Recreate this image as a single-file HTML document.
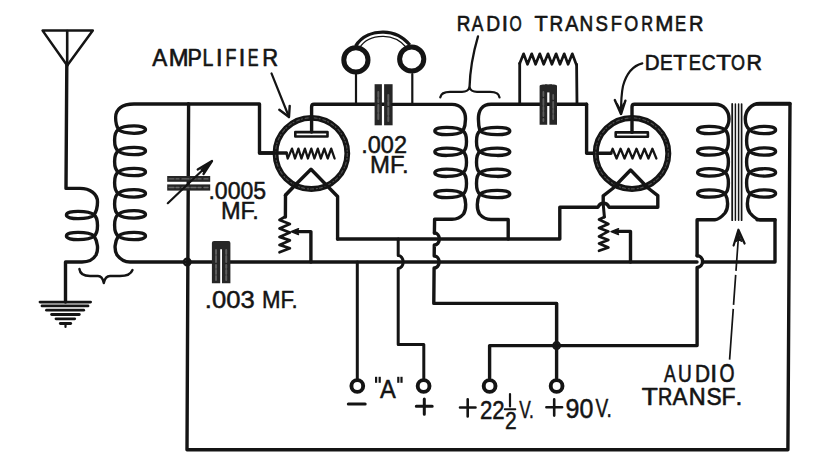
<!DOCTYPE html>
<html><head><meta charset="utf-8"><style>
html,body{margin:0;padding:0;background:#fff;}
svg{display:block;}
text{font-family:"Liberation Sans",sans-serif;fill:#141414;stroke:#141414;stroke-width:0.5px;}
</style></head><body>
<svg width="813" height="462" viewBox="0 0 813 462" fill="none" stroke="#141414" stroke-linecap="round" stroke-linejoin="round">
<rect width="813" height="462" fill="#fff" stroke="none"/>
<path d="M42.6,30.6 H92.8 L67.2,65.5 Z" stroke-width="2.5" />
<path d="M67.2,31 V65.5" stroke-width="2.6" />
<path d="M66.8,65 L66,188.4 H80 C90,188.4 97.5,194 97.5,202 C97.5,208 96,212 94,215" stroke-width="3.4" />
<path d="M94.2,215 C88.64,210.25 66.40,209.95 66.40,215 C66.40,220.05 88.64,219.75 94.2,215 Z" stroke-width="3.3"/>
<path d="M94.2,236 C88.64,231.25 66.40,230.95 66.40,236 C66.40,241.05 88.64,240.75 94.2,236 Z" stroke-width="3.3"/>
<path d="M94,215 C98.66666666666667,218 98.66666666666667,233 94,236 " stroke-width="3.4" />
<path d="M94,236 C98,242 98.5,250 96,255 C93,260 88,262 82,262 H65.5 V302" stroke-width="3.4" />
<line x1="40" y1="302.1" x2="90.6" y2="302.1" stroke-width="2.8"/>
<line x1="42" y1="305.9" x2="88" y2="305.9" stroke-width="2.8"/>
<line x1="46.5" y1="310.2" x2="83.7" y2="310.2" stroke-width="2.8"/>
<line x1="51.6" y1="314.5" x2="79.3" y2="314.5" stroke-width="2.8"/>
<line x1="56" y1="318.8" x2="74.7" y2="318.8" stroke-width="2.8"/>
<line x1="60.3" y1="323.5" x2="70.7" y2="323.5" stroke-width="2.8"/>
<path d="M65.5,323.5 V327" stroke-width="2.2" />
<path d="M79.4,269 C80,274 84,276 90,276 H98 C101,276 103,279 103.8,283 C104.6,279 107,276 110,276 H120 C127,276 131,274 132.5,270" stroke-width="2.4" />
<path d="M118.4,129.6 C123.82,124.85 145.50,124.55 145.50,129.6 C145.50,134.65 123.82,134.35 118.4,129.6 Z" stroke-width="3.3"/>
<path d="M118.4,151 C123.82,146.25 145.50,145.95 145.50,151 C145.50,156.05 123.82,155.75 118.4,151 Z" stroke-width="3.3"/>
<path d="M118.4,172 C123.82,167.25 145.50,166.95 145.50,172 C145.50,177.05 123.82,176.75 118.4,172 Z" stroke-width="3.3"/>
<path d="M118.4,193.4 C123.82,188.65 145.50,188.35 145.50,193.4 C145.50,198.45 123.82,198.15 118.4,193.4 Z" stroke-width="3.3"/>
<path d="M118.4,214.4 C123.82,209.65 145.50,209.35 145.50,214.4 C145.50,219.45 123.82,219.15 118.4,214.4 Z" stroke-width="3.3"/>
<path d="M118.4,236 C123.82,231.25 145.50,230.95 145.50,236 C145.50,241.05 123.82,240.75 118.4,236 Z" stroke-width="3.3"/>
<path d="M118.4,129.6 C113.33333333333334,132.6 113.33333333333334,148 118.4,151 M118.4,151 C113.33333333333334,154 113.33333333333334,169 118.4,172 M118.4,172 C113.33333333333334,175 113.33333333333334,190.4 118.4,193.4 M118.4,193.4 C113.33333333333334,196.4 113.33333333333334,211.4 118.4,214.4 M118.4,214.4 C113.33333333333334,217.4 113.33333333333334,233 118.4,236 " stroke-width="3.4" />
<path d="M188.3,104 H134 C122,104 115.6,109 115.6,117.5 C115.6,123 117,127 118.6,129.6" stroke-width="3.3" />
<path d="M118.4,236 C114.5,242 114,250 117,255 C120,259 124,262 130,262 H188" stroke-width="3.4" />
<path d="M188.6,104 L187,449.8 H787.9 L790,104 H757" stroke-width="3.4" />
<path d="M188.3,104 H259.5 V153 H276" stroke-width="3.4" />
<circle cx="187.2" cy="262" r="3.4" stroke-width="2.2"/>
<rect x="167.2" y="176" width="43" height="5.8" fill="#262626" stroke="none"/>
<rect x="167.2" y="184.4" width="43" height="6.2" fill="#262626" stroke="none"/>
<path d="M169,178.9 H208 M169,187.5 H208" stroke="#777" stroke-width="1.4" stroke-dasharray="5,2,3,3,7,2" opacity="0.8"/>
<path d="M167.8,203.2 L209,164" stroke-width="2.2" />
<path d="M197.7,169.5 L212,161 L203.5,174" stroke-width="2.3" />
<path d="M212,161 L201,169.5 L203.5,172 Z" fill="#141414" stroke="#141414" stroke-width="1.2"/>
<path d="M187,262 H212.5" stroke-width="3.4" />
<path d="M229.4,262 H697" stroke-width="3.4" />
<path d="M703,262 H775 V219.7 H757" stroke-width="3.4" />
<path d="M211.9,283.2 V243 Q211.9,241 214,241 H228.5 Q230.4,241 230.4,243 V283.2 H222 V249.3 H220.2 V283.2 Z" fill="#262626" stroke="none"/>
<path d="M216,250 V280 M226.2,250 V280" stroke="#6a6a6a" stroke-width="2" stroke-dasharray="4,2,6,3,3,2" opacity="0.8"/>
<ellipse cx="311.4" cy="153.4" rx="35.9" ry="35.6" stroke-width="5.8"/>
<ellipse cx="311.4" cy="153.4" rx="35.9" ry="35.6" stroke="#666" stroke-width="1.2" stroke-dasharray="3,2,1,3" opacity="0.7"/>
<rect x="295.3" y="132.1" width="32.2" height="4.4" stroke-width="2.6"/>
<path d="M311.6,132 V107 Q311.6,104.3 314,104.3 H384" stroke-width="3.4" />
<path d="M259.5,153 H286.4" stroke-width="3.4" />
<path d="M286.4,153 L287.7,158.5 L292,148.6 L295,158.5 L298.4,148.6 L301.4,158.5 L304.9,148.6 L307.9,158.5 L311.3,148.6 L314.4,158.5 L317.8,148.6 L320.8,158.5 L324.3,148.6 L327.7,158.5 L331.2,148.6 L334.6,158.5" stroke-width="2.3" />
<path d="M285.5,195.2 L293,187.3 L311,169.2 L329.5,188.2 L337.6,196.5 V239" stroke-width="3.4" />
<path d="M285.5,195.2 L293,187.3" stroke-width="3.4" />
<path d="M285.5,195.2 L285.4,217" stroke-width="3.4" />
<path d="M285.4,216.5 L279.5,220 L289.9,224 L279.5,228.4 L289.9,232.4 L279.5,236.9 L289.9,240.4 L279.5,244.9 L289.9,248.3 L279.5,252.3" stroke-width="2.7" />
<path d="M296,231.6 H310.9 V262" stroke-width="3.4" />
<path d="M291,231.6 L298.5,228.6 L297,231.6 L298.5,234.6 Z" fill="#141414" stroke="#141414" stroke-width="1.4"/>
<path d="M271.5,73.4 L289,117" stroke-width="2.2" />
<path d="M279.3,109.8 L289,117 L289.7,105.9" stroke-width="2.4" />
<path d="M357,47 C363,37 374,33.6 383.5,33.8 C393,34 402,38 408.5,46" stroke-width="6.6" stroke-linecap="butt"/>
<path d="M358.2,47 C364,37.8 374,34.6 383.5,34.8 C393,35 401,38.8 407.3,46" stroke="#fff" stroke-width="2.0" stroke-linecap="butt"/>
<circle cx="355.9" cy="59.9" r="12.1" stroke-width="5"/>
<circle cx="411.7" cy="59" r="12.1" stroke-width="5"/>
<path d="M356,74 V104" stroke-width="2.2" />
<path d="M412.3,74 V104" stroke-width="2.2" />
<rect x="374.6" y="84.2" width="7.3" height="41.1" fill="#262626" stroke="none"/>
<rect x="384.1" y="84.2" width="8.5" height="41.1" fill="#262626" stroke="none"/>
<path d="M378.3,92 V121 M388.3,95 V121" stroke="#6a6a6a" stroke-width="2" stroke-dasharray="5,2,3,3,7,2" opacity="0.8"/>
<path d="M392.8,104.4 H452 C461,104.4 465.5,111 465.5,119 C465.5,124 464.5,128 463,131" stroke-width="3.4" />
<path d="M463,131 C457.36,126.25 434.80,125.95 434.80,131 C434.80,136.05 457.36,135.75 463,131 Z" stroke-width="3.3"/>
<path d="M463,151.8 C457.36,147.05 434.80,146.75 434.80,151.8 C434.80,156.85 457.36,156.55 463,151.8 Z" stroke-width="3.3"/>
<path d="M463,172.8 C457.36,168.05 434.80,167.75 434.80,172.8 C434.80,177.85 457.36,177.55 463,172.8 Z" stroke-width="3.3"/>
<path d="M463,194 C457.36,189.25 434.80,188.95 434.80,194 C434.80,199.05 457.36,198.75 463,194 Z" stroke-width="3.3"/>
<path d="M480,131 C485.96,126.25 509.80,125.95 509.80,131 C509.80,136.05 485.96,135.75 480,131 Z" stroke-width="3.3"/>
<path d="M480,151.8 C485.96,147.05 509.80,146.75 509.80,151.8 C509.80,156.85 485.96,156.55 480,151.8 Z" stroke-width="3.3"/>
<path d="M480,172.8 C485.96,168.05 509.80,167.75 509.80,172.8 C509.80,177.85 485.96,177.55 480,172.8 Z" stroke-width="3.3"/>
<path d="M480,194 C485.96,189.25 509.80,188.95 509.80,194 C509.80,199.05 485.96,198.75 480,194 Z" stroke-width="3.3"/>
<path d="M463,131 C467.6666666666667,134 467.6666666666667,148.8 463,151.8 M463,151.8 C467.6666666666667,154.8 467.6666666666667,169.8 463,172.8 M463,172.8 C467.6666666666667,175.8 467.6666666666667,191 463,194 " stroke-width="3.4" />
<path d="M480,131 C475.3333333333333,134 475.3333333333333,148.8 480,151.8 M480,151.8 C475.3333333333333,154.8 475.3333333333333,169.8 480,172.8 M480,172.8 C475.3333333333333,175.8 475.3333333333333,191 480,194 " stroke-width="3.4" />
<path d="M463,194 C466.5,200 466.5,209.5 463.5,214 C460.5,217.5 456,219.3 452,219.3 H434.6 L434.4,233" stroke-width="3.4" />
<path d="M434.4,233 A5,6 0 0 1 434.3,245 L434.2,256 A5,6 0 0 1 434.1,268 L433.8,303.4 H556.6 V378" stroke-width="3.4" />
<path d="M480,194 C476.5,200 476.5,209.5 479.5,214 C482.5,217.5 487,219.5 491,219.5 H508.2 V239" stroke-width="3.4" />
<path d="M586.6,104.3 H491 C482,104.3 478.4,111 478.4,119 C478.4,124 479,128 480,131" stroke-width="3.4" />
<path d="M440.3,97.3 C441,93 444,91.8 450,91.8 H462 C466,91.8 468.5,90.5 469.5,87.5 C470.5,90.5 473,91.8 477,91.8 H490 C496,91.8 499,93 499.5,97.3" stroke-width="2.3" />
<path d="M469.5,87.5 C470,70 474,50 478,36.4" stroke-width="2.3" />
<path d="M519.7,104 V63.5" stroke-width="2.8" />
<path d="M519.7,63.5 L523.6,53.8 L527.5,64.3 L531.7,53.8 L535.6,64.3 L539.8,53.8 L543.7,64.3 L548.0,53.8 L551.9,64.3 L556.1,53.8 L560.0,64.3 L564.2,53.8 L568.1,64.3 L572.3,53.8 L576.2,64.3" stroke-width="2.7" />
<path d="M576.6,64.3 L577,104" stroke-width="2.8" />
<path d="M539.6,86 Q539.6,84.4 543,84.4 L547.2,84.4 V124.8 H539.6 Z" fill="#262626" stroke="none"/>
<path d="M549.4,84.4 H554 Q557,84.4 557,86 V124.8 H549.4 Z" fill="#262626" stroke="none"/>
<rect x="545" y="84.4" width="7" height="8" fill="#262626" stroke="none"/>
<path d="M543.4,92 V121 M553.2,95 V121" stroke="#6a6a6a" stroke-width="1.8" stroke-dasharray="4,3,6,2,3,2" opacity="0.8"/>
<path d="M586.6,104.3 V153.2 H611" stroke-width="3.4" />
<ellipse cx="632" cy="153.4" rx="36.3" ry="35.5" stroke-width="6"/>
<ellipse cx="632" cy="153.4" rx="36.3" ry="35.5" stroke="#666" stroke-width="1.2" stroke-dasharray="3,2,1,3" opacity="0.7"/>
<rect x="615.7" y="132.4" width="32.2" height="4.4" stroke-width="2.6"/>
<path d="M632,132.4 V107 Q632,104.3 634.5,104.3 H715 C724,104.3 729,111 729,119 C729,124 726.5,128 724.5,130" stroke-width="3.4" />
<path d="M611,153 L612.6,148.8 L616.58,158.5 L620.56,148.8 L624.54,158.5 L628.52,148.8 L632.5,158.5 L636.48,148.8 L640.46,158.5 L644.44,148.8 L648.42,158.5 L652.4,148.8 L656.38,158.5" stroke-width="2.3" />
<path d="M603.2,204 V195.8 L612.7,188.5 L630.6,170 L648,188 L657.8,195.6 V207.3 H609 C608,204.5 606,203.2 603.5,203.2 C601,203.2 599,204.5 598,207.3 H559.8 V239 H337.5" stroke-width="3.4" />
<path d="M603.2,204 L604.4,217" stroke-width="3.0" />
<path d="M604.4,217 L599,219.5 L608.4,224 L599,228 L608.4,231.4 L599,236.4 L608.4,239.9 L599,243.4 L608.4,247.4 L599,250.8" stroke-width="2.7" />
<path d="M617,231.4 H630.5 V262" stroke-width="3.4" />
<path d="M611,231.6 L618.5,228.6 L617,231.6 L618.5,234.6 Z" fill="#141414" stroke="#141414" stroke-width="1.4"/>
<path d="M642.3,63.4 C632,66 626,75 623,86 C621.5,93 621,102 621,114" stroke-width="2.2" />
<path d="M614.8,100 L621,114 L625.4,100.7" stroke-width="2.4" />
<path d="M617,104 L621,111 L623.5,104" stroke-width="2.0" />
<path d="M725,130 C719.52,125.25 697.60,124.95 697.60,130 C697.60,135.05 719.52,134.75 725,130 Z" stroke-width="3.3"/>
<path d="M725,151.5 C719.52,146.75 697.60,146.45 697.60,151.5 C697.60,156.55 719.52,156.25 725,151.5 Z" stroke-width="3.3"/>
<path d="M725,172.4 C719.52,167.65 697.60,167.35 697.60,172.4 C697.60,177.45 719.52,177.15 725,172.4 Z" stroke-width="3.3"/>
<path d="M725,193.5 C719.52,188.75 697.60,188.45 697.60,193.5 C697.60,198.55 719.52,198.25 725,193.5 Z" stroke-width="3.3"/>
<path d="M750,130 C755.12,125.25 775.60,124.95 775.60,130 C775.60,135.05 755.12,134.75 750,130 Z" stroke-width="3.3"/>
<path d="M750,151.5 C755.12,146.75 775.60,146.45 775.60,151.5 C775.60,156.55 755.12,156.25 750,151.5 Z" stroke-width="3.3"/>
<path d="M750,172.4 C755.12,167.65 775.60,167.35 775.60,172.4 C775.60,177.45 755.12,177.15 750,172.4 Z" stroke-width="3.3"/>
<path d="M750,193.5 C755.12,188.75 775.60,188.45 775.60,193.5 C775.60,198.55 755.12,198.25 750,193.5 Z" stroke-width="3.3"/>
<path d="M725,130 C729.5333333333333,133 729.5333333333333,148.5 725,151.5 M725,151.5 C729.5333333333333,154.5 729.5333333333333,169.4 725,172.4 M725,172.4 C729.5333333333333,175.4 729.5333333333333,190.5 725,193.5 " stroke-width="3.4" />
<path d="M750,130 C745.4666666666667,133 745.4666666666667,148.5 750,151.5 M750,151.5 C745.4666666666667,154.5 745.4666666666667,169.4 750,172.4 M750,172.4 C745.4666666666667,175.4 745.4666666666667,190.5 750,193.5 " stroke-width="3.4" />
<path d="M725,193.5 C728.5,199.5 728.5,208.5 725,213 C722,216.5 719,219.7 715,219.7 H697.1 V255.8" stroke-width="3.4" />
<path d="M697.1,255.8 A5.5,5.8 0 0 1 697.1,267.4 V345.6 H489.6 V378" stroke-width="3.4" />
<path d="M750,193.5 C746.5,199.5 746.5,208.5 750,213 C753,216.5 756,219.7 760,219.7 H775" stroke-width="3.4" />
<path d="M790,103.5 H760 C751,103.5 745.3,111 745.3,119 C745.3,124 747,128 750,130" stroke-width="3.4" />
<line x1="732.2" y1="104" x2="732.2" y2="220.2" stroke-width="1.8"/>
<line x1="735.4" y1="104" x2="735.4" y2="220.2" stroke-width="1.5"/>
<line x1="738.6" y1="104" x2="738.6" y2="220.2" stroke-width="1.5"/>
<line x1="741.6" y1="104" x2="741.6" y2="220.2" stroke-width="1.7"/>
<path d="M738.2,240 L729.6,359.6" stroke-width="1.7" stroke-dasharray="31,4,30,4,200" stroke-linecap="butt"/>
<path d="M733.6,245.5 L738.4,229.7 L744.6,243.5" stroke-width="2.2" />
<path d="M738.4,232 L735.6,242 L738.2,240 L741.8,241.5 Z" fill="#141414" stroke="#141414" stroke-width="1"/>
<path d="M357.3,262 V378.7" stroke-width="3.0" />
<path d="M398.2,239 V255.6 A5,6.4 0 0 1 398.2,268.4 V344.4 H423.8 V378.5" stroke-width="3.0" />
<path d="M556.6,303.4 V345.6" stroke-width="3.0" />
<circle cx="357.3" cy="386" r="5.9" stroke-width="3.9"/>
<circle cx="423.6" cy="386" r="5.9" stroke-width="3.9"/>
<circle cx="489.6" cy="386" r="5.9" stroke-width="3.9"/>
<circle cx="556.6" cy="386" r="5.9" stroke-width="3.9"/>
<circle cx="556.6" cy="345.6" r="3.4" stroke-width="2.2"/>
<path d="M348.3,404 H365.2" stroke-width="3.0" />
<path d="M416.3,406.3 H432.2 M424.3,398.9 V414.3" stroke-width="3.0" />
<text transform="translate(152.24,65.55) scale(0.966,1)" font-size="23.3" style="stroke-width:0.65px">A</text>
<text transform="translate(168.87,65.55) scale(1.022,1)" font-size="23.3" style="stroke-width:0.65px">M</text>
<text transform="translate(187.52,65.55) scale(0.923,1)" font-size="23.3" style="stroke-width:0.65px">P</text>
<text transform="translate(202.45,65.55) scale(0.836,1)" font-size="23.3" style="stroke-width:0.65px">L</text>
<text transform="translate(216.1,65.55) scale(1.0,1)" font-size="23.3" style="stroke-width:0.65px">I</text>
<text transform="translate(225.55,65.55) scale(0.767,1)" font-size="23.3" style="stroke-width:0.65px">F</text>
<text transform="translate(238.7,65.55) scale(1.0,1)" font-size="23.3" style="stroke-width:0.65px">I</text>
<text transform="translate(247.86,65.55) scale(0.694,1)" font-size="23.3" style="stroke-width:0.65px">E</text>
<text transform="translate(262.19,65.55) scale(0.942,1)" font-size="23.3" style="stroke-width:0.65px">R</text>
<text transform="translate(456.74,30.95) scale(0.842,1)" font-size="22.46" style="stroke-width:0.65px">R</text>
<text transform="translate(471.79,30.95) scale(0.774,1)" font-size="22.46" style="stroke-width:0.65px">A</text>
<text transform="translate(486.31,30.95) scale(0.857,1)" font-size="22.46" style="stroke-width:0.65px">D</text>
<text transform="translate(501.68,30.95) scale(1.0,1)" font-size="22.46" style="stroke-width:0.65px">I</text>
<text transform="translate(509.48,30.95) scale(0.7,1)" font-size="22.46" style="stroke-width:0.65px">O</text>
<text transform="translate(534.46,30.95) scale(0.966,1)" font-size="22.46" style="stroke-width:0.65px">T</text>
<text transform="translate(549.44,30.95) scale(0.842,1)" font-size="22.46" style="stroke-width:0.65px">R</text>
<text transform="translate(565.22,30.95) scale(0.884,1)" font-size="22.46" style="stroke-width:0.65px">A</text>
<text transform="translate(579.53,30.95) scale(0.845,1)" font-size="22.46" style="stroke-width:0.65px">N</text>
<text transform="translate(595.38,30.95) scale(0.83,1)" font-size="22.46" style="stroke-width:0.65px">S</text>
<text transform="translate(610.77,30.95) scale(0.817,1)" font-size="22.46" style="stroke-width:0.65px">F</text>
<text transform="translate(624.2,30.95) scale(0.8,1)" font-size="22.46" style="stroke-width:0.65px">O</text>
<text transform="translate(641.31,30.95) scale(0.73,1)" font-size="22.46" style="stroke-width:0.65px">R</text>
<text transform="translate(655.24,30.95) scale(0.971,1)" font-size="22.46" style="stroke-width:0.65px">M</text>
<text transform="translate(674.88,30.95) scale(0.745,1)" font-size="22.46" style="stroke-width:0.65px">E</text>
<text transform="translate(688.96,30.95) scale(0.891,1)" font-size="22.46" style="stroke-width:0.65px">R</text>
<text transform="translate(644.63,70.15) scale(0.914,1)" font-size="22.46" style="stroke-width:0.65px">D</text>
<text transform="translate(659.93,70.15) scale(0.847,1)" font-size="22.46" style="stroke-width:0.65px">E</text>
<text transform="translate(673.35,70.15) scale(0.996,1)" font-size="22.46" style="stroke-width:0.65px">T</text>
<text transform="translate(688.78,70.15) scale(0.816,1)" font-size="22.46" style="stroke-width:0.65px">E</text>
<text transform="translate(701.76,70.15) scale(0.853,1)" font-size="22.46" style="stroke-width:0.65px">C</text>
<text transform="translate(716.13,70.15) scale(1.087,1)" font-size="22.46" style="stroke-width:0.65px">T</text>
<text transform="translate(731.0,70.15) scale(0.8,1)" font-size="22.46" style="stroke-width:0.65px">O</text>
<text transform="translate(746.57,70.15) scale(0.954,1)" font-size="22.46" style="stroke-width:0.65px">R</text>
<text transform="translate(664.08,381.85) scale(0.713,1)" font-size="24.84" style="stroke-width:0.65px">A</text>
<text transform="translate(678.05,381.85) scale(0.766,1)" font-size="24.84" style="stroke-width:0.65px">U</text>
<text transform="translate(694.93,381.85) scale(0.839,1)" font-size="24.84" style="stroke-width:0.65px">D</text>
<text transform="translate(710.15,381.85) scale(1.0,1)" font-size="24.84" style="stroke-width:0.65px">I</text>
<text transform="translate(719.42,381.85) scale(0.777,1)" font-size="24.84" style="stroke-width:0.65px">O</text>
<text transform="translate(641.63,404.75) scale(1.069,1)" font-size="24.56" style="stroke-width:0.65px">T</text>
<text transform="translate(657.89,404.75) scale(0.807,1)" font-size="24.56" style="stroke-width:0.65px">R</text>
<text transform="translate(672.43,404.75) scale(0.912,1)" font-size="24.56" style="stroke-width:0.65px">A</text>
<text transform="translate(688.63,404.75) scale(0.954,1)" font-size="24.56" style="stroke-width:0.65px">N</text>
<text transform="translate(706.41,404.75) scale(0.922,1)" font-size="24.56" style="stroke-width:0.65px">S</text>
<text transform="translate(721.56,404.75) scale(0.936,1)" font-size="24.56" style="stroke-width:0.65px">F</text>
<text transform="translate(735.55,404.75) scale(1.0,1)" font-size="24.56" style="stroke-width:0.65px">.</text>
<text x="380" y="397.7" font-size="25.22" text-anchor="start" textLength="15.81" lengthAdjust="spacingAndGlyphs" >A</text>
<text x="208.4" y="199.3" font-size="24.67" text-anchor="start" textLength="57.76" lengthAdjust="spacingAndGlyphs" >.0005</text>
<text x="220.9" y="218.8" font-size="24.36" text-anchor="start" textLength="37.93" lengthAdjust="spacingAndGlyphs" >MF.</text>
<text x="361.3" y="152.8" font-size="23.55" text-anchor="start" textLength="45.7" lengthAdjust="spacingAndGlyphs" >.002</text>
<text x="370.1" y="172.6" font-size="24.1" text-anchor="start" textLength="38.5" lengthAdjust="spacingAndGlyphs" >MF.</text>
<text x="204.8" y="307.8" font-size="24.66" text-anchor="start" textLength="49.88" lengthAdjust="spacingAndGlyphs" >.003</text>
<text x="262" y="307.8" font-size="24.66" text-anchor="start" textLength="35.8" lengthAdjust="spacingAndGlyphs" >MF.</text>
<text x="480" y="418.6" font-size="26.1" text-anchor="start" textLength="24.72" lengthAdjust="spacingAndGlyphs" >22</text>
<text x="519.2" y="417.5" font-size="24.1" text-anchor="start" textLength="14.73" lengthAdjust="spacingAndGlyphs" >V.</text>
<text x="565.6" y="417.6" font-size="26.95" text-anchor="start" textLength="27.83" lengthAdjust="spacingAndGlyphs" >90</text>
<text x="595.6" y="417.1" font-size="25.53" text-anchor="start" textLength="16.3" lengthAdjust="spacingAndGlyphs" >V.</text>
<text x="504.9" y="428.5" font-size="23.18" text-anchor="start" textLength="11.67" lengthAdjust="spacingAndGlyphs" >2</text>
<rect x="375" y="376.8" width="2.2" height="6" fill="#141414" stroke="none"/>
<rect x="378.6" y="376.8" width="2.2" height="6" fill="#141414" stroke="none"/>
<rect x="397.2" y="376.8" width="2.2" height="6" fill="#141414" stroke="none"/>
<rect x="400.4" y="376.8" width="2.2" height="6" fill="#141414" stroke="none"/>
<path d="M460,407.5 H475.5 M467.7,399.2 V416.4" stroke-width="2.6" />
<path d="M546.4,407.3 H562.1 M554.2,399.4 V415.6" stroke-width="2.6" />
<path d="M510,394 V406.4" stroke-width="2.2" />
<path d="M504.8,409.2 H515.3" stroke-width="2.0" />
</svg>
</body></html>
